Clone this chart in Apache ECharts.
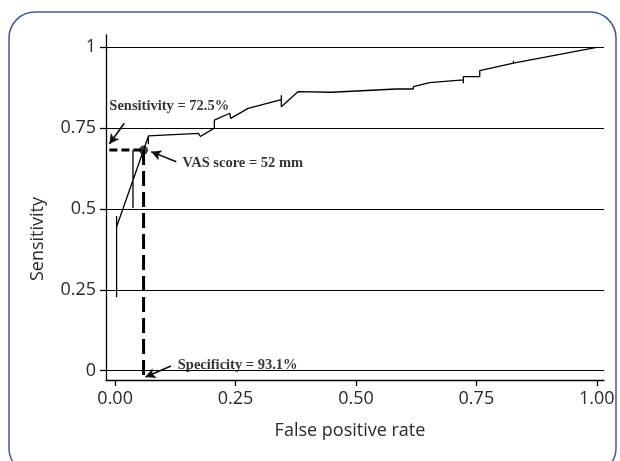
<!DOCTYPE html>
<html><head><meta charset="utf-8">
<script src="https://cdn.jsdelivr.net/npm/echarts@6/dist/echarts.min.js"></script>
<style>html,body{margin:0;padding:0;background:#fff}#c{width:620px;height:461px}</style>
</head><body><div id="c"></div>
<script>
// ---- data ----
const xTickValues = [0, 0.25, 0.5, 0.75, 1];
const xTickLabels = ['0.00', '0.25', '0.50', '0.75', '1.00'];
const yTickValues = [0, 0.25, 0.5, 0.75, 1];
const yTickLabels = ['0', '0.25', '0.5', '0.75', '1'];

// ROC curve (false positive rate, sensitivity)
const rocFpr  = [0.003,0.003,0.003,0.037,0.037,0.037,0.037,0.069,0.069,0.069,0.173,0.177,0.206,0.206,0.238,0.240,0.276,0.277,0.345,0.345,0.345,0.380,0.449,0.584,0.619,0.619,0.653,0.723,0.723,0.723,0.757,0.757,0.827,0.827,0.827,1.000];
const rocSens = [0.227,0.478,0.445,0.589,0.502,0.682,0.589,0.725,0.700,0.726,0.734,0.724,0.750,0.775,0.796,0.780,0.811,0.805,0.838,0.852,0.816,0.863,0.861,0.871,0.871,0.878,0.891,0.899,0.889,0.909,0.909,0.928,0.951,0.958,0.951,1.000];

// cut-off point (VAS score = 52 mm)
const cutoffFpr = [0.059];
const cutoffSens = [0.682];

// dashed guide lines
const sensGuideFpr = [-0.012, 0.059];
const sensGuideSens = [0.682, 0.682];
const specGuideFpr = [0.059, 0.059];
const specGuideSens = [0.682, -0.015];

// annotations
const annotationTexts = ['Sensitivity = 72.5%', 'VAS score = 52 mm', 'Specificity = 93.1%'];
const annotationFpr = [-0.012, 0.140, 0.130];
const annotationSens = [0.817, 0.641, 0.018];
const arrowFromFpr = [0.019, 0.127, 0.116];
const arrowFromSens = [0.765, 0.646, 0.0145];
const arrowToFpr = [-0.012, 0.075, 0.063];
const arrowToSens = [0.701, 0.677, -0.020];

// ---- chart ----
const zip = (a, b) => a.map((v, i) => [v, b[i]]);
const chart = echarts.init(document.getElementById('c'), null, {renderer: 'canvas'});
const tickFont = {fontFamily: 'Open Sans', fontSize: 18, color: '#2a2a2a'};
const annFont = {fontFamily: 'Liberation Serif', fontWeight: 'bold', fontSize: 14.5, color: '#000'};

chart.setOption({
  animation: false,
  backgroundColor: '#fff',
  grid: {left: 106, right: 16, top: 35, bottom: 81},
  xAxis: {
    type: 'value', min: -0.019, max: 1.015,
    axisLine: {show: true, onZero: false, lineStyle: {color: '#000', width: 1.3}},
    axisTick: {show: true, length: 6, customValues: xTickValues, lineStyle: {color: '#000', width: 1.3}},
    axisLabel: Object.assign({customValues: xTickValues, margin: 10,
      formatter: v => { const i = xTickValues.findIndex(t => Math.abs(t - v) < 1e-9); return i >= 0 ? xTickLabels[i] : ''; }}, tickFont),
    splitLine: {show: false},
    name: 'False positive rate', nameLocation: 'middle', nameGap: 42,
    nameTextStyle: {fontFamily: 'Open Sans', fontSize: 18, color: '#2a2a2a', padding: [0, 10, 0, 0]}
  },
  yAxis: {
    type: 'value', min: -0.029, max: 1.038,
    axisLine: {show: true, onZero: false, lineStyle: {color: '#000', width: 1.3}},
    axisTick: {show: true, length: 6, customValues: yTickValues, lineStyle: {color: '#000', width: 1.3}},
    axisLabel: Object.assign({customValues: yTickValues, margin: 10,
      formatter: v => { const i = yTickValues.findIndex(t => Math.abs(t - v) < 1e-9); return i >= 0 ? yTickLabels[i] : ''; }}, tickFont),
    splitLine: {show: false}
  },
  graphic: [
    {type: 'rect', shape: {x: 9, y: 12, width: 607, height: 462, r: 26},
     style: {fill: 'none', stroke: '#3d5d91', lineWidth: 1.5}, silent: true},
    {type: 'text', x: 38, y: 239, rotation: Math.PI / 2,
     style: {text: 'Sensitivity', fontFamily: 'Open Sans', fontSize: 18, fill: '#2a2a2a',
             align: 'center', verticalAlign: 'middle'}, silent: true}
  ],
  series: [
    { // gridlines
      type: 'line', data: [], silent: true,
      markLine: {silent: true, symbol: 'none', label: {show: false},
        lineStyle: {color: '#000', width: 1.2, type: 'solid'},
        data: yTickValues.map(v => ({yAxis: v}))}
    },
    {
      type: 'line', data: zip(rocFpr, rocSens), showSymbol: false, silent: true,
      lineStyle: {color: '#000', width: 1.3}
    },
    {
      type: 'line', data: zip(sensGuideFpr, sensGuideSens), showSymbol: false, silent: true,
      lineStyle: {color: '#000', width: 3, type: [8, 4]}
    },
    {
      type: 'line', data: zip(specGuideFpr, specGuideSens), showSymbol: false, silent: true,
      lineStyle: {color: '#000', width: 3, type: [15, 6]}
    },
    {
      type: 'scatter', data: zip(cutoffFpr, cutoffSens), symbolSize: 9, silent: true,
      itemStyle: {color: '#111'}
    },
    {
      type: 'scatter', symbolSize: 0, silent: true,
      data: annotationTexts.map((t, i) => ({name: t, value: [annotationFpr[i], annotationSens[i]]})),
      label: Object.assign({show: true, position: 'right', distance: 0, formatter: p => p.name}, annFont),
      markLine: {silent: true, symbol: ['none', 'arrow'], symbolSize: [8, 10], label: {show: false},
        lineStyle: {color: '#111', width: 1.6, type: 'solid'},
        data: annotationTexts.map((t, i) => [
          {coord: [arrowFromFpr[i], arrowFromSens[i]]},
          {coord: [arrowToFpr[i], arrowToSens[i]]}
        ])}
    }
  ]
});
</script></body></html>
